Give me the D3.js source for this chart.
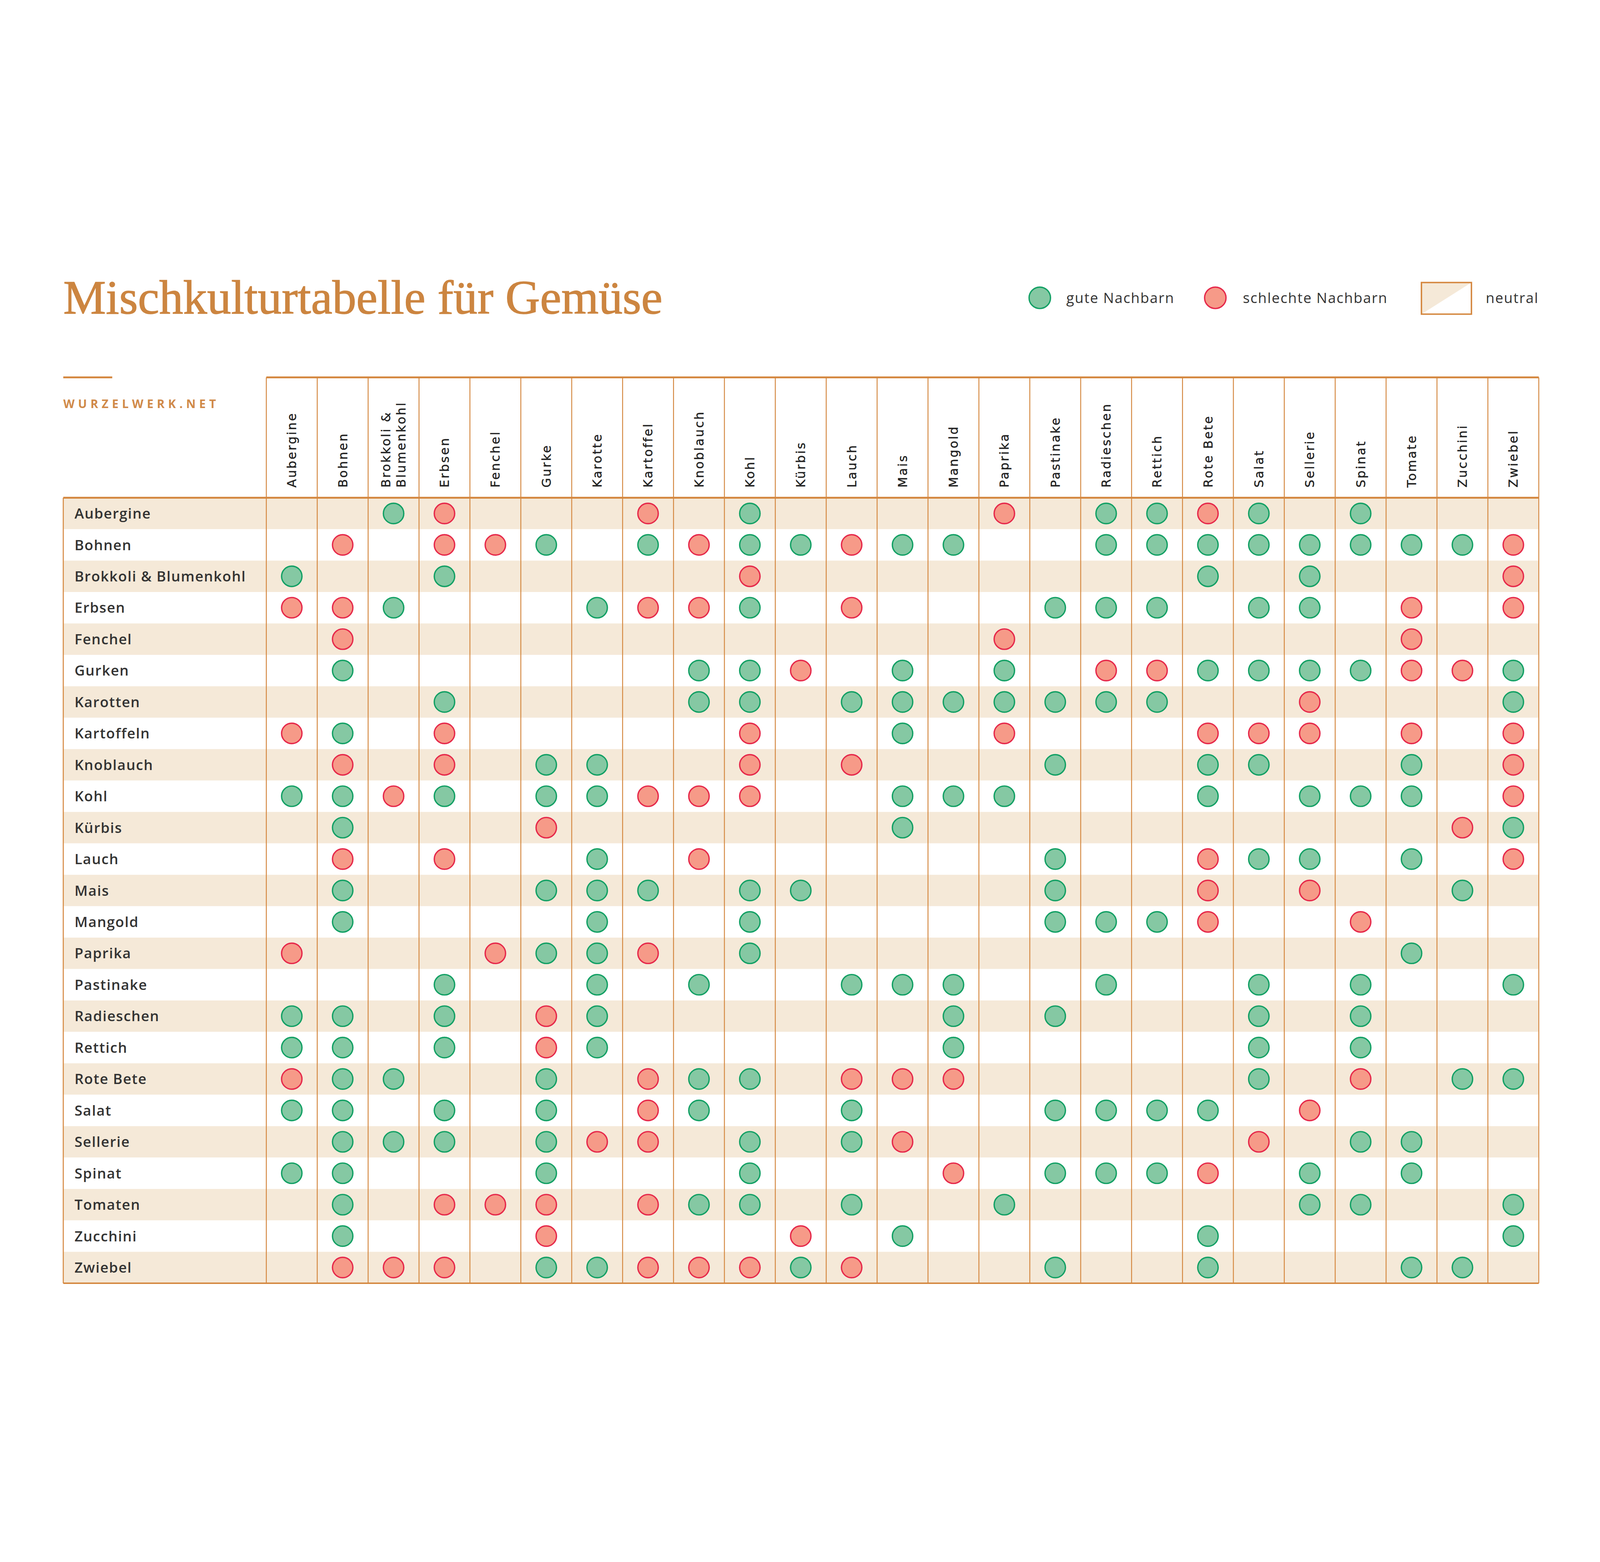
<html lang="de">
<head>
<meta charset="UTF-8">
<title>Mischkulturtabelle für Gemüse</title>
<script src="https://d3js.org/d3.v7.min.js"></script>
<style>
  html, body { margin: 0; padding: 0; background: #fff; overflow: hidden; }
  #chart svg { display: block; }
</style>
</head>
<body>
<div id="chart"></div>
<script>

// row plants (left) and column plants (top)
const rows = ["Aubergine", "Bohnen", "Brokkoli & Blumenkohl", "Erbsen", "Fenchel", "Gurken", "Karotten",
  "Kartoffeln", "Knoblauch", "Kohl", "Kürbis", "Lauch", "Mais", "Mangold", "Paprika", "Pastinake",
  "Radieschen", "Rettich", "Rote Bete", "Salat", "Sellerie", "Spinat", "Tomaten", "Zucchini", "Zwiebel"];

const columns = ["Aubergine", "Bohnen", "Brokkoli & Blumenkohl", "Erbsen", "Fenchel", "Gurke", "Karotte",
  "Kartoffel", "Knoblauch", "Kohl", "Kürbis", "Lauch", "Mais", "Mangold", "Paprika", "Pastinake",
  "Radieschen", "Rettich", "Rote Bete", "Salat", "Sellerie", "Spinat", "Tomate", "Zucchini", "Zwiebel"];

// g = gute Nachbarn, r = schlechte Nachbarn, . = neutral (one code per column, grouped by 5)
const relations = [
  "..gr. ..r.g ....r .ggrg .g...",
  ".r.rr g.grg grgg. .gggg ggggr",
  "g..g. ....r ..... ...g. g...r",
  "rrg.. .grrg .r... ggg.g g.r.r",
  ".r... ..... ....r ..... ..r..",
  ".g... ...gg r.g.g .rrgg ggrrg",
  "...g. ...gg .gggg ggg.. r...g",
  "rg.r. ....r ..g.r ...rr r.r.r",
  ".r.r. gg..r .r... g..gg ..g.r",
  "ggrg. ggrrr ..ggg ...g. ggg.r",
  ".g... r.... ..g.. ..... ...rg",
  ".r.r. .g.r. ..... g..rg g.g.r",
  ".g... ggg.g g.... g..r. r..g.",
  ".g... .g..g ..... gggr. .r...",
  "r...r ggr.g ..... ..... ..g..",
  "...g. .g.g. .ggg. .g..g .g..g",
  "gg.g. rg... ...g. g...g .g...",
  "gg.g. rg... ...g. ....g .g...",
  "rgg.. g.rgg .rrr. ....g .r.gg",
  "gg.g. g.rg. .g... gggg. r....",
  ".ggg. grr.g .gr.. ....r .gg..",
  "gg... g...g ...r. gggr. g.g..",
  ".g.rr r.rgg .g..g ..... gg..g",
  ".g... r.... r.g.. ...g. ....g",
  ".rrr. ggrrr gr... g..g. ..gg."
];

const legendLabels = ["gute Nachbarn", "schlechte Nachbarn", "neutral"];

const orange = "#d4873f";
const beige = "#f5e9d8";
const colors = {
  g: { fill: "#85c8a3", stroke: "#12a064" },
  r: { fill: "#f69a88", stroke: "#e6284a" }
};

// drawn in a 1568 x 1045 frame, fitted to the window
const svg = d3.select("#chart")
  .append("svg")
  .style("width", "100vw")
  .style("height", "100vh")
  .attr("viewBox", "0 0 1568 1045.33")
  .attr("preserveAspectRatio", "xMidYMid meet");

const x_scale = d3.scaleBand()
  .domain(columns)
  .range([261, 1508]);

const y_scale = d3.scaleBand()
  .domain(rows)
  .range([245, 1015]);

// striped rows
svg.append("g")
  .selectAll("rect")
  .data(rows)
  .enter()
  .append("rect")
    .attr("x", 62)
    .attr("y", d => y_scale(d))
    .attr("width", 1508 - 62)
    .attr("height", y_scale.bandwidth())
    .attr("fill", (d, i) => i % 2 === 0 ? beige : "#fff");

// grid lines
const grid = svg.append("g").attr("stroke", orange);

grid.selectAll("line.col")
  .data(columns.concat(["end"]))
  .enter()
  .append("line")
    .attr("class", "col")
    .attr("x1", (d, i) => i < columns.length ? x_scale(d) : 1508)
    .attr("x2", (d, i) => i < columns.length ? x_scale(d) : 1508)
    .attr("y1", 127)
    .attr("y2", 1015)
    .attr("stroke-width", 0.9);

grid.append("line").attr("x1", 62).attr("x2", 62).attr("y1", 245).attr("y2", 1015).attr("stroke-width", 1);
grid.append("line").attr("x1", 261).attr("x2", 1508).attr("y1", 127).attr("y2", 127).attr("stroke-width", 1.8);
grid.append("line").attr("x1", 62).attr("x2", 110).attr("y1", 127).attr("y2", 127).attr("stroke-width", 1.8);
grid.append("line").attr("x1", 62).attr("x2", 1508).attr("y1", 245).attr("y2", 245).attr("stroke-width", 1.8);
grid.append("line").attr("x1", 62).attr("x2", 1508).attr("y1", 1015).attr("y2", 1015).attr("stroke-width", 1.5);

// column headers, rotated, reading upwards from y = 235
const headers = svg.append("g")
  .selectAll("g")
  .data(columns)
  .enter()
  .append("g")
    .attr("transform", d => `translate(${x_scale(d) + x_scale.bandwidth() / 2}, 235) rotate(-90)`);

headers.each(function(d) {
  const lines = d.includes(" & ") ? [d.split(" & ")[0] + " &", d.split(" & ")[1]] : [d];
  d3.select(this).selectAll("text")
    .data(lines)
    .enter()
    .append("text")
      .attr("x", 0)
      .attr("y", (l, i) => (i - (lines.length - 1) / 2) * 15)
      .attr("dy", "0.36em")
      .attr("text-anchor", "start")
      .style("font-family", "DejaVu Sans")
      .style("font-size", "12px")
      .style("letter-spacing", "1.4px")
      .style("fill", "#222")
      .style("stroke", "#222")
      .style("stroke-width", 0.2)
      .text(l => l);
});

// row labels
svg.append("g")
  .selectAll("text")
  .data(rows)
  .enter()
  .append("text")
    .attr("x", 73)
    .attr("y", d => y_scale(d) + y_scale.bandwidth() / 2)
    .attr("dy", "0.36em")
    .style("font-family", "Open Sans")
    .style("font-weight", 600)
    .style("font-size", "14px")
    .style("letter-spacing", "0.6px")
    .style("fill", "#333")
    .text(d => d);

// dots
const cells = [];
relations.forEach((r, i) => {
  r.replace(/ /g, "").split("").forEach((c, j) => {
    if (c !== ".") cells.push({ row: rows[i], col: columns[j], type: c });
  });
});

svg.append("g")
  .selectAll("circle")
  .data(cells)
  .enter()
  .append("circle")
    .attr("cx", d => x_scale(d.col) + x_scale.bandwidth() / 2)
    .attr("cy", d => y_scale(d.row) + y_scale.bandwidth() / 2)
    .attr("r", 10)
    .style("fill", d => colors[d.type].fill)
    .style("stroke", d => colors[d.type].stroke)
    .style("stroke-width", 1.3);

// title and site name
svg.append("text")
  .attr("x", 62)
  .attr("y", 64.5)
  .style("font-family", "Liberation Serif")
  .style("font-size", "47px")
  .style("fill", "#cc8540")
  .style("stroke", "#cc8540")
  .style("stroke-width", 0.6)
  .text("Mischkulturtabelle für Gemüse");

svg.append("text")
  .attr("x", 62)
  .attr("y", 157)
  .style("font-family", "Open Sans")
  .style("font-weight", 700)
  .style("font-size", "11.5px")
  .style("letter-spacing", "3.4px")
  .style("fill", "#d08a49")
  .text("WURZELWERK.NET");

// legend
const legend = svg.append("g");

legend.append("circle").attr("cx", 1019).attr("cy", 49).attr("r", 10.5)
  .style("fill", colors.g.fill).style("stroke", colors.g.stroke).style("stroke-width", 1.3);
legend.append("circle").attr("cx", 1191).attr("cy", 49).attr("r", 10.5)
  .style("fill", colors.r.fill).style("stroke", colors.r.stroke).style("stroke-width", 1.3);

legend.append("rect").attr("x", 1393).attr("y", 34).attr("width", 49).attr("height", 31)
  .style("fill", "#fff");
legend.append("path")
  .attr("d", "M1393,34 L1442,34 L1393,65 Z")
  .style("fill", beige);
legend.append("rect").attr("x", 1393).attr("y", 34).attr("width", 49).attr("height", 31)
  .style("fill", "none").style("stroke", orange).style("stroke-width", 1.4);

legend.selectAll("text")
  .data(legendLabels)
  .enter()
  .append("text")
    .attr("x", (d, i) => [1045, 1218, 1456][i])
    .attr("y", 49)
    .attr("dy", "0.36em")
    .style("font-family", "Open Sans")
    .style("font-weight", 500)
    .style("font-size", "14px")
    .style("letter-spacing", "0.7px")
    .style("fill", "#333")
    .text(d => d);

</script>
</body>
</html>
